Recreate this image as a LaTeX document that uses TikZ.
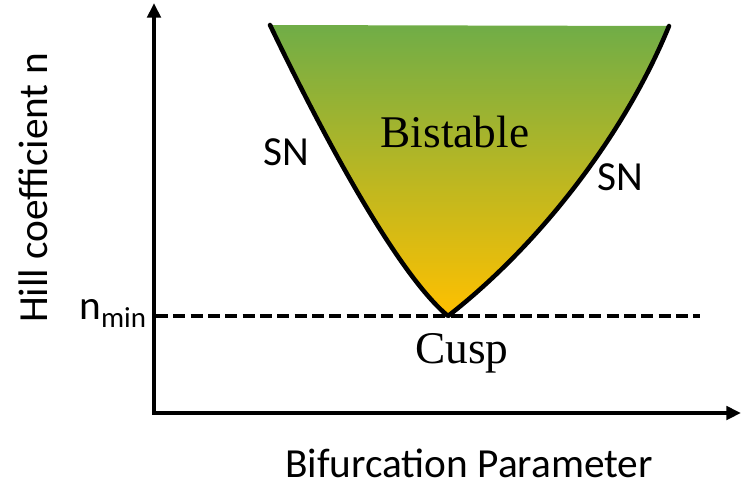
\documentclass[tikz,border=0pt]{standalone}
\usepackage{fontspec}
\setmainfont{Liberation Serif}
\newfontfamily\labelfont{Carlito}
\usetikzlibrary{arrows.meta}
\definecolor{bistablegreen}{RGB}{112,173,71}
\definecolor{cuspyellow}{RGB}{255,192,0}
\tikzset{
    axis line/.style={line width=2.8pt, line join=miter,
        {Triangle[length=11pt,width=10pt]}-{Triangle[length=11pt,width=10pt]}},
    sn curve/.style={line width=3.4pt, line join=round, line cap=round},
    nmin line/.style={line width=2.6pt, dash pattern=on 9pt off 4pt},
    sans label/.style={inner sep=0pt, text depth=0pt, font=\labelfont\fontsize{31}{36}\selectfont},
    serif label/.style={inner sep=0pt, font=\fontsize{34}{40}\selectfont},
}

\begin{document}
\begin{tikzpicture}[x=0.75pt,y=-0.75pt]
\useasboundingbox (0,0) rectangle (741,483);
\coordinate (origin) at (154,413);
\coordinate (ytip) at (154,3);
\coordinate (xtip) at (741,413);
\coordinate (lefttop) at (270,25);
\coordinate (righttop) at (669,26);
\coordinate (cusp) at (448,316);
\coordinate (nminleft) at (156,316);
\coordinate (nminright) at (700,316);
% bistable region between the two fold branches
\shade[top color=bistablegreen, bottom color=cuspyellow]
    (lefttop) .. controls (330,150) and (400,276) .. (cusp)
    .. controls (538,246) and (624,136) .. (righttop) -- cycle;
\draw[nmin line] (nminleft) -- (nminright);
\draw[sn curve] (lefttop) .. controls (330,150) and (400,276) .. (cusp)
    .. controls (538,246) and (624,136) .. (righttop);
% axes
\draw[axis line] (ytip) -- (origin) -- (xtip);
\node[serif label, anchor=base] (bistable) at (455,147) {Bistable};
\node[serif label, anchor=base] (cusplabel) at (462,363) {Cusp};
\node[sans label, anchor=base] (snleft) at (286,165) {SN};
\node[sans label, anchor=base] (snright) at (620,190) {SN};
\node[sans label, anchor=base east] (nmin) at (147,319) {n\textsubscript{min}};
\node[sans label, anchor=base] (xlabel) at (469,477) {Bifurcation Parameter};
\node[sans label, anchor=base, rotate=90] (ylabel) at (47,188) {Hill coefficient n};
\end{tikzpicture}
\end{document}
